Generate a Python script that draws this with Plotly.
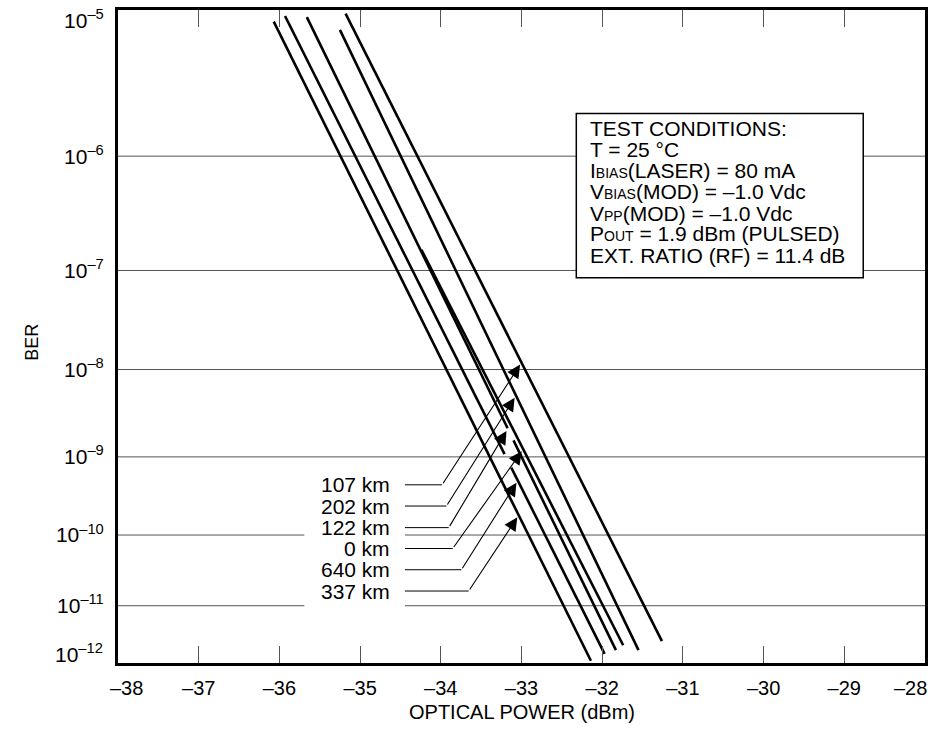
import numpy as np
import plotly.graph_objects as go

# ---------------- data ----------------
curve_labels = ["337 km", "640 km", "122 km", "0 km", "202 km", "107 km"]
power_start = [-36.07, -35.93, -35.66, -34.24, -35.25, -35.18]   # dBm
power_end = [-32.14, -31.97, -31.83, -31.74, -31.55, -31.26]     # dBm
ber_start = [9.9e-6, 1.08e-5, 1.06e-5, 1.56e-7, 8.7e-6, 1.12e-5]
ber_end = [1.42e-12, 1.83e-12, 2.1e-12, 2.5e-12, 2.1e-12, 2.9e-12]
arrow_ber = [1.72e-10, 4.8e-10, 2.04e-9, 1.17e-9, 4.9e-9, 1.13e-8]  # where each label arrow meets its curve
# short breaks in the drawn curves (upper BER, lower BER), None = unbroken
curve_gaps = [None, (1.08e-9, 7.4e-10), (2.19e-9, 1.58e-9), None, None, None]

label_order = ["107 km", "202 km", "122 km", "0 km", "640 km", "337 km"]
x_tick_values = [-38, -37, -36, -35, -34, -33, -32, -31, -30, -29, -28]
ber_exponents = [-5, -6, -7, -8, -9, -10, -11, -12]
grid_exponents = [-6, -7, -8, -9, -10, -11]

test_conditions = [
    "TEST CONDITIONS:",
    "T = 25 °C",
    "I<span style='font-size:14px'>BIAS</span>(LASER) = 80 mA",
    "V<span style='font-size:14px'>BIAS</span>(MOD) = –1.0 Vdc",
    "V<span style='font-size:14px'>PP</span>(MOD) = –1.0 Vdc",
    "P<span style='font-size:14px'>OUT</span> = 1.9 dBm (PULSED)",
    "EXT. RATIO (RF) = 11.4 dB",
]

# ---------------- BER paper scale: y = log10(-log10(BER)) ----------------
def ber_scale(b):
    return np.log10(-np.log10(np.asarray(b, dtype=float)))

def exp_scale(e):
    return np.log10(-np.asarray(e, dtype=float))

# layout geometry (pixels of the 935x753 page)
W, H = 935, 753
PL, PR, PT, PB = 118, 928, 7, 663
U_TOP, U_BOT = 0.69257, 1.07493
X_MIN, X_MAX = -38, -28

def px_to_x(px):
    return X_MIN + (px - PL) * (X_MAX - X_MIN) / (PR - PL)

def py_to_u(py):
    return U_TOP + (py - PT) * (U_BOT - U_TOP) / (PB - PT)

def paper_x(px):
    return (px - PL) / (PR - PL)

def paper_y(py):
    return (PB - py) / (PB - PT)

def x_on_curve(i, b):
    u0, u1 = ber_scale(ber_start[i]), ber_scale(ber_end[i])
    t = (ber_scale(b) - u0) / (u1 - u0)
    return float(power_start[i] + t * (power_end[i] - power_start[i]))

FONT = "Liberation Sans, Arial, Helvetica, sans-serif"

fig = go.Figure()

for i, name in enumerate(curve_labels):
    bers = [ber_start[i], ber_end[i]]
    if curve_gaps[i] is None:
        xs = [power_start[i], power_end[i]]
        ys = [float(v) for v in ber_scale(bers)]
    else:
        g0, g1 = curve_gaps[i]
        xs = [power_start[i], x_on_curve(i, g0), None, x_on_curve(i, g1), power_end[i]]
        ys = [float(ber_scale(ber_start[i])), float(ber_scale(g0)), None,
              float(ber_scale(g1)), float(ber_scale(ber_end[i]))]
    fig.add_trace(go.Scatter(
        x=xs, y=ys, mode="lines", line=dict(color="black", width=2.6),
        connectgaps=False, name=name, showlegend=False, hoverinfo="skip"))

shapes = []
# horizontal grid lines at the decades
for e in grid_exponents:
    u = float(exp_scale(e))
    shapes.append(dict(type="line", xref="x", yref="y", x0=X_MIN, x1=X_MAX, y0=u, y1=u,
                       line=dict(color="#555555", width=1), layer="below"))

# white box behind the distance labels
shapes.append(dict(type="rect", xref="x", yref="y",
                   x0=px_to_x(305), x1=px_to_x(406), y0=py_to_u(470), y1=py_to_u(607.5),
                   fillcolor="white", line=dict(width=0), layer="above"))
# test-conditions box
shapes.append(dict(type="rect", xref="x", yref="y",
                   x0=px_to_x(578), x1=px_to_x(866), y0=py_to_u(111), y1=py_to_u(276),
                   fillcolor="white", line=dict(color="black", width=1.5), layer="above"))

annotations = []
# distance labels with bent leader arrows
label_y_px = [484, 505.3, 527, 548, 569.3, 590.7]
bend_x_px = [443.3, 447.7, 450, 454, 462.7, 470]
for k, lab in enumerate(label_order):
    i = curve_labels.index(lab)
    uy = py_to_u(label_y_px[k])
    annotations.append(dict(x=px_to_x(393), y=uy, xref="x", yref="y", text=lab,
                            showarrow=False, xanchor="right", yanchor="middle",
                            font=dict(family=FONT, size=21, color="black")))
    shapes.append(dict(type="line", xref="x", yref="y", x0=px_to_x(406), x1=px_to_x(bend_x_px[k]),
                       y0=uy, y1=uy, line=dict(color="black", width=1), layer="above"))
    tip_u = float(ber_scale(arrow_ber[i]))
    tip_x = x_on_curve(i, arrow_ber[i])
    annotations.append(dict(x=tip_x - 0.03, y=tip_u, xref="x", yref="y",
                            ax=px_to_x(bend_x_px[k]), ay=uy, axref="x", ayref="y",
                            text="", showarrow=True, arrowhead=2, arrowsize=2.4,
                            arrowwidth=1.1, arrowcolor="black", standoff=0))

# test conditions text
tc_y_px = [126, 147, 168, 189.5, 211, 232, 254]
for line_txt, ypx in zip(test_conditions, tc_y_px):
    annotations.append(dict(x=px_to_x(590), y=py_to_u(ypx), xref="x", yref="y", text=line_txt,
                            showarrow=False, xanchor="left", yanchor="middle",
                            font=dict(family=FONT, size=21, color="black")))

# 10^-12 label sits at the bottom of the frame
annotations.append(dict(x=paper_x(105), y=paper_y(653), xref="paper", yref="paper",
                        text="10<sup>–12</sup>", showarrow=False, xanchor="right", yanchor="middle",
                        font=dict(family=FONT, size=21, color="black")))
# end tick labels (shifted inward, as in the reference)
for v, xpx in ((x_tick_values[0], 127), (x_tick_values[-1], 913)):
    annotations.append(dict(x=paper_x(xpx), y=paper_y(688), xref="paper", yref="paper",
                            text="–%d" % abs(v), showarrow=False, xanchor="center", yanchor="middle",
                            font=dict(family=FONT, size=20, color="black")))
# axis titles
annotations.append(dict(x=paper_x(523), y=paper_y(712), xref="paper", yref="paper",
                        text="OPTICAL POWER (dBm)", showarrow=False, xanchor="center", yanchor="middle",
                        font=dict(family=FONT, size=20, color="black")))
annotations.append(dict(x=paper_x(32), y=paper_y(341), xref="paper", yref="paper",
                        text="BER", textangle=-90, showarrow=False, xanchor="center", yanchor="middle",
                        font=dict(family=FONT, size=18, color="black")))

ytick_exps = ber_exponents[:-1]
inner_ticks = x_tick_values[1:-1]
fig.update_layout(
    width=W, height=H,
    margin=dict(l=PL, r=W - PR, t=PT, b=H - PB, pad=0),
    paper_bgcolor="white", plot_bgcolor="white",
    showlegend=False,
    shapes=shapes, annotations=annotations,
    xaxis=dict(range=[X_MIN, X_MAX], tickmode="array", tickvals=inner_ticks,
               ticktext=["–%d" % abs(v) for v in inner_ticks],
               ticks="inside", ticklen=17, tickwidth=1, tickcolor="#555555",
               showgrid=False, zeroline=False,
               showline=True, linecolor="black", linewidth=3, mirror="allticks",
               ticklabelstandoff=5,
               tickfont=dict(family=FONT, size=20, color="black")),
    yaxis=dict(range=[U_BOT, U_TOP], tickmode="array",
               tickvals=[float(exp_scale(e)) for e in ytick_exps],
               ticktext=["10<sup>–%d</sup>" % abs(e) for e in ytick_exps],
               ticks="", showgrid=False, zeroline=False,
               showline=True, linecolor="black", linewidth=3, mirror=True,
               ticklabelstandoff=7,
               tickfont=dict(family=FONT, size=21, color="black")),
)

fig.write_html("out.html")
